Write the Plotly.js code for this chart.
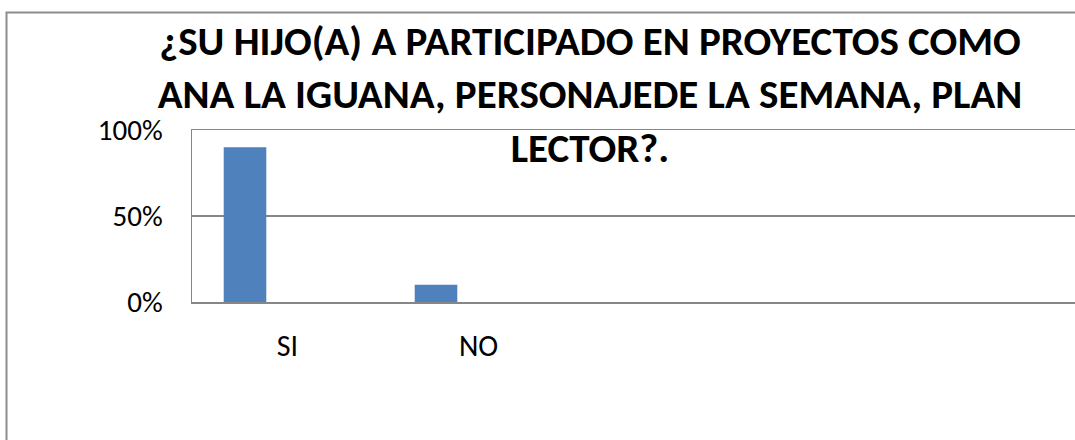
<!DOCTYPE html>
<html>
<head>
<meta charset="utf-8">
<script src="https://cdn.plot.ly/plotly-3.0.1.min.js"></script>
<style>html,body{margin:0;padding:0;background:#fff;overflow:hidden;}#chart{width:1075px;height:440px;}</style>
</head>
<body>
<div id="chart"></div>
<script>
const categories = ['SI', 'NO'];
const values = [0.90, 0.10];
const yTicks = [0, 0.5, 1];
const yTickLabels = ['0%', '50%', '100%'];
const titleText = '¿SU HIJO(A) A PARTICIPADO EN PROYECTOS COMO<br>ANA LA IGUANA, PERSONAJEDE LA SEMANA, PLAN<br>LECTOR?.';

const W = 1075, H = 440;
const L = 192, R = 0, T = 130, B = 138;
const plotW = W - L - R, plotH = H - T - B;
const slotPx = 191;
const FONT = 'Carlito, Lato, sans-serif';

const trace = {
  type: 'bar',
  x: categories,
  y: values,
  width: 0.223,
  offset: -0.334,
  marker: {color: '#4f81bd', line: {width: 0}},
  hoverinfo: 'x+y'
};

const px2paperX = p => (p - L) / plotW;
const px2paperY = p => (H - B - p) / plotH;
const fx0 = px2paperX(6.5), fx1 = px2paperX(W + 40);
const fy0 = px2paperY(H + 40), fy1 = px2paperY(12.5);

const layout = {
  width: W, height: H,
  margin: {l: L, r: R, t: T, b: B, pad: 0},
  paper_bgcolor: '#ffffff',
  plot_bgcolor: '#ffffff',
  showlegend: false,
  title: {
    text: titleText,
    font: {family: FONT, size: 41, color: '#000000', weight: 'bold'},
    x: 590 / W, xref: 'container', xanchor: 'center',
    y: 1 - 55 / H, yref: 'container', yanchor: 'top'
  },
  xaxis: {
    type: 'category',
    range: [-0.5, -0.5 + plotW / slotPx],
    showgrid: false,
    showline: true, mirror: true, linecolor: '#868686', linewidth: 1.5,
    ticks: '', ticklabelstandoff: 16,
    tickfont: {family: FONT, size: 30, color: '#000000'},
    zeroline: false, fixedrange: true
  },
  yaxis: {
    range: [0, 1],
    tickvals: yTicks, ticktext: yTickLabels,
    showgrid: true, gridcolor: '#868686', gridwidth: 1.5,
    showline: true, linecolor: '#868686', linewidth: 1.5,
    ticks: '', ticklabelstandoff: 22,
    tickfont: {family: FONT, size: 29, color: '#000000'},
    zeroline: false, fixedrange: true
  },
  shapes: [{
    type: 'path', xref: 'paper', yref: 'paper', layer: 'below',
    path: `M ${fx0},${fy0} L ${fx0},${fy1} L ${fx1},${fy1}`,
    line: {color: '#8c8c8c', width: 2}, fillcolor: 'rgba(0,0,0,0)'
  }]
};

Plotly.newPlot('chart', [trace], layout, {displayModeBar: false, staticPlot: true});
</script>
</body>
</html>
